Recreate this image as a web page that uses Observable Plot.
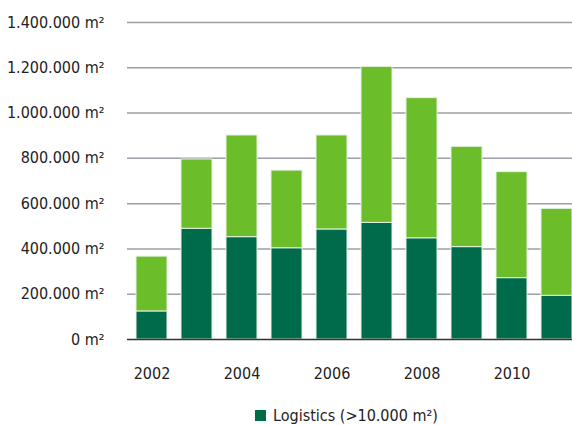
<!DOCTYPE html>
<html><head><meta charset="utf-8">
<script src="https://cdn.jsdelivr.net/npm/d3@7"></script>
<script src="https://cdn.jsdelivr.net/npm/@observablehq/plot@0.6"></script>
<style>
html,body{margin:0;padding:0;background:#fff;overflow:hidden;width:572px;height:425px}
body{font-family:"DejaVu Sans Condensed",sans-serif;color:#222}
#legend{display:flex;align-items:center;margin-left:255px;padding-top:7px;font-size:16px;line-height:17px;white-space:nowrap}
#legend .sw{width:11px;height:11px;background:#006b4b;margin-right:7px}
</style></head><body><div id="chart"></div>
<div id="legend"><span class="sw"></span><span>Logistics (&gt;10.000 m²)</span></div>
<script>
const years = [2002, 2003, 2004, 2005, 2006, 2007, 2008, 2009, 2010, 2011];
const logistics = [124000, 489000, 452000, 403000, 486000, 515000, 447000, 408000, 271000, 193000];
const other = [242000, 306000, 449000, 343000, 415000, 689000, 619000, 443000, 468000, 384000];
const yTicks = [0, 200000, 400000, 600000, 800000, 1000000, 1200000, 1400000];
const xTicks = [2002, 2004, 2006, 2008, 2010];
const seriesNames = ["Logistics", "Other"];
const seriesColors = ["#006b4b", "#6bbd29"];

const data = years.flatMap((y, i) => [
  {year: y, series: seriesNames[0], value: logistics[i]},
  {year: y, series: seriesNames[1], value: other[i]}
]);
const nf = d3.formatLocale({thousands: ".", grouping: [3], decimal: ",", currency: ["", ""]}).format(",");
const fmt = d => nf(d) + " m²";

const chart = Plot.plot({
  width: 572, height: 400,
  marginLeft: 127, marginRight: -9, marginTop: 22, marginBottom: 61,
  style: {fontFamily: '"DejaVu Sans Condensed",sans-serif', fontSize: "16px", color: "#222", background: "#fff"},
  x: {type: "band", domain: years, paddingInner: 0.31, paddingOuter: 0.1, ticks: xTicks, tickFormat: d => String(d), tickSize: 0, tickPadding: 28, label: null},
  y: {domain: [0, 1400000], ticks: yTicks, tickFormat: fmt, tickSize: 0, tickPadding: 23, label: null},
  color: {domain: seriesNames, range: seriesColors},
  marks: [
    Plot.ruleY(yTicks.slice(1), {stroke: "#9aa0a5", strokeWidth: 1.5}),
    Plot.barY(data, {x: "year", y: "value", fill: "series", stroke: "#e6f2e2", strokeWidth: 1}),
    Plot.ruleY([0], {stroke: "#333", strokeWidth: 1.5})
  ]
});
document.getElementById("chart").appendChild(chart);
</script>
</body></html>
